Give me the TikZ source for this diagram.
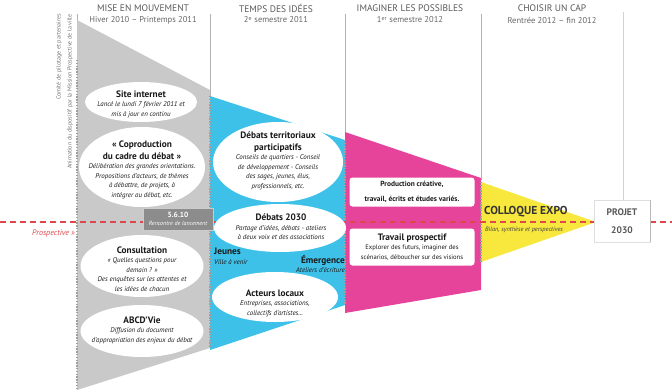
\documentclass[tikz,border=0pt]{standalone}
\usepackage{fontspec}
\setmainfont{PT Sans}
\usetikzlibrary{shapes.geometric}

\definecolor{gris}{HTML}{C9C9C9}
\definecolor{bleu}{HTML}{3EC1E9}
\definecolor{rose}{HTML}{E6449B}
\definecolor{jaune}{HTML}{F8E83E}
\definecolor{rouge}{HTML}{E0474C}
\definecolor{fonce}{HTML}{8C8C8C}

\newcommand\titrebulle[1]{{\fontsize{9.3}{11}\selectfont\bfseries\upshape #1}}

\begin{document}
\begin{tikzpicture}[x=1pt,y=-1pt,
  titre/.style={font=\fontsize{9.5}{10}\selectfont, text=black!65},
  periode/.style={font=\fontsize{8.5}{9}\selectfont, text=black!60},
  bulle/.style={ellipse, fill=white, inner sep=0pt},
  contenu/.style={align=center, inner sep=0pt, text=black!90,
    font=\fontsize{6.9}{9.5}\selectfont\itshape},
  encadre/.style={rectangle, rounded corners=3pt, fill=white, inner sep=1pt,
    minimum width=125, align=center, text=black!90, font=\fontsize{6.6}{9.5}\selectfont},
  bord/.style={gray!75, line width=1.6pt, dash pattern=on 1.4pt off 1.4pt},
  colonne/.style={gray!60, line width=0.8pt}]
  \useasboundingbox (0,0) rectangle (672,391);

  % en-tetes des quatre temps
  \node[titre] (t1) at (143,8) {MISE EN MOUVEMENT};
  \node[periode] (p1) at (143,20) {Hiver 2010 -- Printemps 2011};
  \node[titre] (t2) at (276,8) {TEMPS DES IDÉES};
  \node[periode] (p2) at (276,20) {2\textsuperscript{e} semestre 2011};
  \node[titre] (t3) at (410,8) {IMAGINER LES POSSIBLES};
  \node[periode] (p3) at (410,20) {1\textsuperscript{er} semestre 2012};
  \node[titre] (t4) at (552,8) {CHOISIR UN CAP};
  \node[periode] (p4) at (552,20) {Rentrée 2012 -- fin 2012};

  % lignes de colonnes
  \draw[colonne] (77,14) -- (77,60);
  \draw[colonne] (210,14) -- (210,96);
  \draw[colonne] (345,14) -- (345,133);
  \draw[colonne] (481,14) -- (481,180);
  \draw[colonne, gray!35] (623,12) -- (623,200);

  % les formes colorees
  \fill[gris] (77,20) -- (210,90) -- (210,348) -- (77,390) -- cycle;
  \fill[bleu] (210,96) -- (345,140) -- (345,305) -- (210,350) -- cycle;
  \fill[rose] (345,132) -- (481,178) -- (481,290) -- (345,313) -- cycle;
  \fill[jaune] (481,182) -- (596,222) -- (481,262) -- cycle;

  % bords pointilles
  \draw[bord] (77,60) -- (77,390);
  \draw[bord] (210,96) -- (210,348);
  \draw[bord] (345,140) -- (345,305);
  \draw[bord] (481,182) -- (481,262);

  % ligne prospective
  \coordinate (rg) at (0,222);
  \coordinate (rd) at (672,222);
  \draw[rouge, line width=1.5pt, dash pattern=on 6pt off 4pt] (rg) -- (rd);
  \node[anchor=east, inner sep=0pt, text=rouge, font=\fontsize{8}{9}\selectfont\itshape] (prosp) at (75,233) {Prospective >>};

  % texte vertical
  \node[rotate=90, anchor=south east, align=right, inner sep=0pt, text=black!55,
    font=\fontsize{6}{11}\selectfont] (gouv) at (73,14)
    {Comité de pilotage et partenaires\\Animation du dispositif par la Mission Prospective de la ville};

  % mise en mouvement
  \node[bulle, minimum width=112, minimum height=40] (site) at (141,102) {};
  \node[contenu] (site-t) at (141,104)
    {\titrebulle{Site internet}\\Lancé le lundi 7 février 2011 et\\mis à jour en continu};
  \node[bulle, minimum width=126, minimum height=80] (copro) at (142,167) {};
  \node[contenu] (copro-t) at (142,170)
    {\titrebulle{« Coproduction}\\[2pt]\titrebulle{du cadre du débat »}\\Délibération des grandes orientations.\\Propositions d'acteurs, de thèmes\\à débattre, de projets, à\\intégrer au débat, etc.};
  \node[fill=fonce, draw=gray!40, text=white, align=center, inner sep=1pt,
    minimum width=70, minimum height=22, font=\fontsize{6}{7.5}\selectfont\itshape] (lanc) at (178,219)
    {{\fontsize{7.5}{8}\selectfont\bfseries\upshape 5.6.10}\\Rencontre de lancement};
  \node[bulle, minimum width=123, minimum height=62] (consult) at (142,266) {};
  \node[contenu] (consult-t) at (142,269)
    {\titrebulle{Consultation}\\« Quelles questions pour\\demain ? »\\Des enquêtes sur les attentes et\\les idées de chacun};
  \node[bulle, minimum width=123, minimum height=52] (abcd) at (142,331) {};
  \node[contenu] (abcd-t) at (142,330)
    {\titrebulle{ABCD'Vie}\\Diffusion du document\\d'appropriation des enjeux du débat};

  % temps des idees
  \node[bulle, minimum width=130, minimum height=80] (terr) at (278,162) {};
  \node[contenu] (terr-t) at (278,161)
    {\titrebulle{Débats territoriaux}\\[2pt]\titrebulle{participatifs}\\Conseils de quartiers - Conseil\\de développement - Conseils\\des sages, jeunes, élus,\\professionnels, etc.};
  \node[bulle, minimum width=132, minimum height=48] (d2030) at (280,228) {};
  \node[contenu] (d2030-t) at (281,227)
    {\titrebulle{Débats 2030}\\Partage d'idées, débats - ateliers\\à deux voix et des associations};
  \node[contenu, anchor=north west, align=left] (jeunes) at (214,248)
    {\titrebulle{Jeunes}\\Ville à venir};
  \node[contenu, anchor=north east, align=right] (emerg) at (345,255)
    {\titrebulle{Émergence}\\Ateliers d'écriture};
  \node[bulle, minimum width=126, minimum height=50] (acteurs) at (275,297) {};
  \node[contenu] (acteurs-t) at (275,303)
    {\titrebulle{Acteurs locaux}\\Entreprises, associations,\\collectifs d'artistes...};

  % imaginer les possibles
  \node[encadre, minimum height=29, font=\fontsize{7.4}{14.5}\selectfont\bfseries] (prod) at (412,192)
    {Production créative,\\travail, écrits et études variés.};
  \node[encadre, minimum height=37] (trav) at (412,247)
    {\titrebulle{Travail prospectif}\\Explorer des futurs, imaginer des\\scénarios, déboucher sur des visions};

  % choisir un cap
  \node[anchor=west, inner sep=0pt, text=black!80, font=\fontsize{11.5}{12}\selectfont\bfseries] (colloque) at (484,212)
    {COLLOQUE EXPO};
  \node[anchor=west, inner sep=0pt, text=black!75, font=\fontsize{6.3}{7}\selectfont\itshape] (bilan) at (485,230)
    {Bilan, synthèse et perspectives};

  % projet
  \node[draw=gray!25, fill=white, minimum width=56, minimum height=42, align=center,
    text=black!65, font=\fontsize{9.5}{18}\selectfont\bfseries] (projet) at (622,221)
    {PROJET\\2030};
  \draw[gray!55, line width=1pt] (projet.north east) -- (projet.south east);
\end{tikzpicture}
\end{document}
